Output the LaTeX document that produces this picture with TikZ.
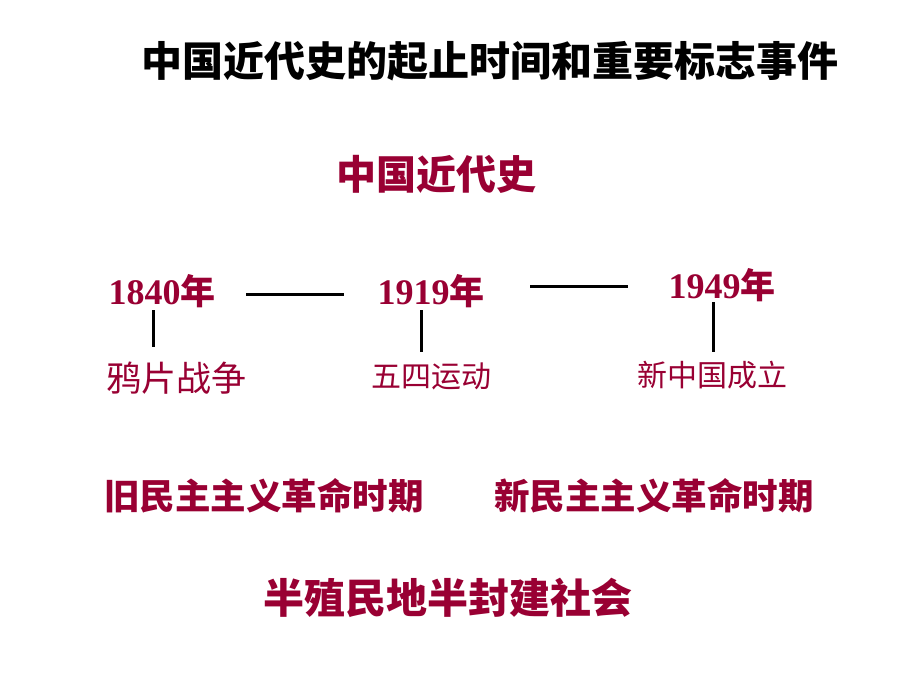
\documentclass[tikz,border=0pt]{standalone}
\usepackage{fontspec}
\newfontfamily\cjk{Noto Sans CJK SC}
\newfontfamily\tms{Liberation Serif}
\definecolor{dred}{RGB}{153,0,51}
\begin{document}
\begin{tikzpicture}[x=1pt,y=-1pt,
  title/.style={inner sep=0pt,font=\cjk\bfseries\fontsize{41}{44}\selectfont,text=black},
  head/.style={inner sep=0pt,font=\cjk\bfseries\fontsize{40}{44}\selectfont,text=dred},
  year/.style={inner sep=0pt,font=\tms\bfseries\fontsize{36}{40}\selectfont,text=dred},
  event/.style={inner sep=0pt,font=\cjk\fontsize{30}{34}\selectfont,text=dred},
  period/.style={inner sep=0pt,font=\cjk\bfseries\fontsize{35.5}{40}\selectfont,text=dred},
  link/.style={line width=3pt,black}]
\useasboundingbox[fill=white] (0,0) rectangle (920,690);
\node[title] (t) at (490,61) {中国近代史的起止时间和重要标志事件};
\node[head] (h) at (436,174) {中国近代史};
\node[year] (y1) at (162,291) {1840{\cjk\bfseries\fontsize{35}{40}\selectfont 年}};
\node[year] (y2) at (431,291) {1919{\cjk\bfseries\fontsize{35}{40}\selectfont 年}};
\node[year] (y3) at (722,285) {1949{\cjk\bfseries\fontsize{35}{40}\selectfont 年}};
\coordinate (l1a) at (246,294); \coordinate (l1b) at (344,294);
\coordinate (l2a) at (530,286); \coordinate (l2b) at (628,286);
\draw[link] (l1a) -- (l1b);
\draw[link] (l2a) -- (l2b);
\node[event,font=\cjk\fontsize{35}{38}\selectfont] (e1) at (176,378) {鸦片战争};
\node[event] (e2) at (431,376) {五四运动};
\node[event] (e3) at (712,375) {新中国成立};
\coordinate (v1) at (153,310); \coordinate (v1b) at (153,347);
\coordinate (v2) at (421,310); \coordinate (v2b) at (421,352);
\coordinate (v3) at (713,302); \coordinate (v3b) at (713,352);
\draw[link] (v1) -- (v1b);
\draw[link] (v2) -- (v2b);
\draw[link] (v3) -- (v3b);
\node[period] (p1) at (264,496) {旧民主主义革命时期};
\node[period] (p2) at (654,496) {新民主主义革命时期};
\node[period,font=\cjk\bfseries\fontsize{41}{45}\selectfont] (s) at (448,598) {半殖民地半封建社会};
\end{tikzpicture}
\end{document}
